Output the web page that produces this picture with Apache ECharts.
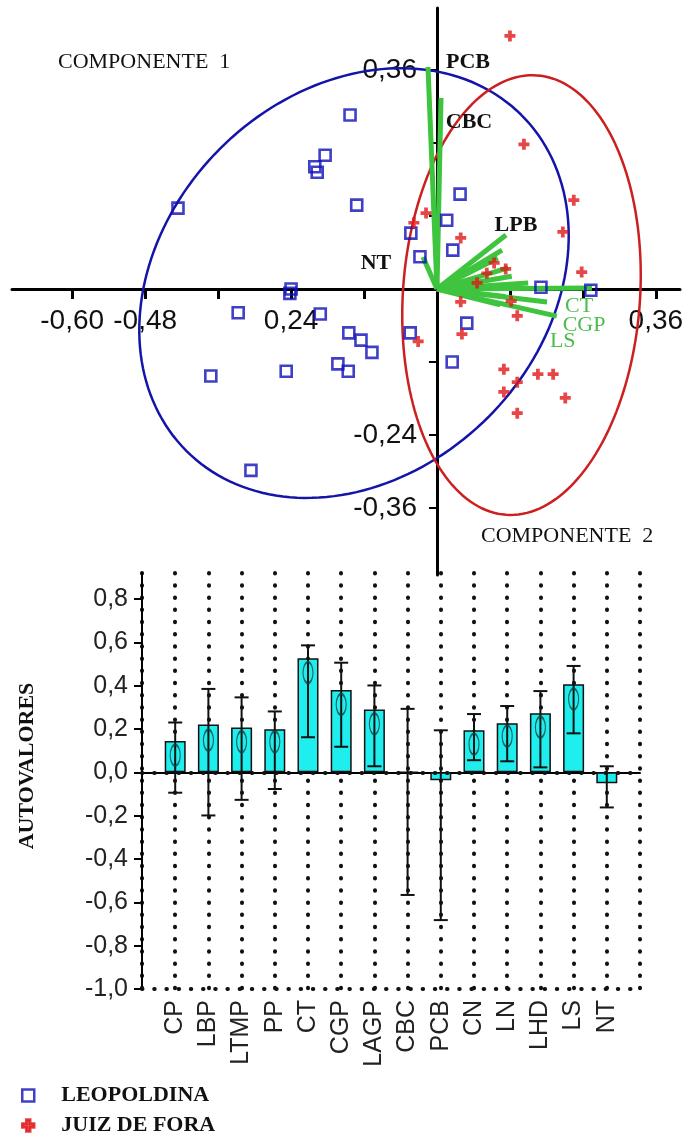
<!DOCTYPE html>
<html><head><meta charset="utf-8">
<script src="https://cdn.jsdelivr.net/npm/echarts@6/dist/echarts.min.js"></script>
<style>html,body{margin:0;padding:0;background:#fff}#c{width:690px;height:1137px}</style>
</head><body><div id="c"></div>
<script>
// ===== Biplot data =====
const leopoldina = [
  [-0.143,0.286],[-0.184,0.220],[-0.201,0.201],[-0.197,0.192],[-0.426,0.133],[-0.132,0.138],
  [0.038,0.156],[0.016,0.113],[-0.043,0.092],[0.026,0.064],[-0.028,0.053],[-0.240,0.000],
  [-0.242,-0.007],[-0.327,-0.039],[-0.192,-0.041],[-0.145,-0.072],[-0.125,-0.084],[-0.107,-0.104],
  [-0.163,-0.123],[-0.146,-0.135],[-0.248,-0.135],[-0.372,-0.143],[-0.306,-0.298],[-0.044,-0.072],
  [0.049,-0.056],[0.025,-0.120],[0.171,0.003],[0.253,-0.002]
];
const juizDeFora = [
  [0.120,0.416],[0.143,0.238],[0.225,0.146],[0.207,0.094],[0.238,0.028],[-0.018,0.125],
  [-0.038,0.109],[0.039,0.084],[0.094,0.043],[0.113,0.033],[0.082,0.026],[0.066,0.010],
  [0.039,-0.021],[0.122,-0.020],[0.132,-0.044],[0.041,-0.074],[-0.031,-0.086],[0.110,-0.132],
  [0.132,-0.153],[0.166,-0.140],[0.191,-0.140],[0.110,-0.169],[0.211,-0.179],[0.132,-0.204]
];
const loadingNames = ['CP','LPB','LTMP','PP','CT','CGP','LAGP','CBC','PCB','CN','LN','LHD','LS','NT'];
const loadingX = [0.117,0.1135,0.107,0.100,0.255,0.181,0.123,0.0066,-0.0148,0.112,0.104,0.150,0.197,-0.023];
const loadingY = [0.035,0.0888,0.064,0.051,0.0016,-0.0214,0.021,0.314,0.365,-0.012,-0.026,0.010,-0.0444,0.0526];
// ellipse: centre x, centre y, semi-axis 1, semi-axis 2, angle of axis 1 (deg)
const ellipseLeopoldina = [-0.1365, 0.0099, 0.390, 0.312, 45];
const ellipseJuizDeFora = [0.139, -0.0099, 0.362, 0.195, 86];
const biplotXTicks = [-0.60,-0.48,-0.36,-0.24,-0.12,0.12,0.24,0.36];
const biplotXLabelValues = [-0.60,-0.48,-0.24,0.36];
const biplotXLabels = ['-0,60','-0,48','0,24','0,36'];
const biplotYTicks = [-0.36,-0.24,-0.12,0.12,0.24,0.36];
const biplotYLabelValues = [0.36,-0.24,-0.36];
const biplotYLabels = ['0,36','-0,24','-0,36'];

// ===== Bar chart data =====
const categories = ['CP','LBP','LTMP','PP','CT','CGP','LAGP','CBC','PCB','CN','LN','LHD','LS','NT'];
const barValues = [0.145,0.221,0.207,0.199,0.526,0.380,0.290,0.000,-0.037,0.194,0.227,0.273,0.407,-0.050];
const errLow  = [-0.094,-0.199,-0.127,-0.077,0.162,0.118,0.028,-0.566,-0.682,0.056,0.051,0.023,0.180,-0.162];
const errHigh = [0.230,0.385,0.346,0.281,0.586,0.506,0.401,0.293,0.194,0.269,0.306,0.375,0.491,0.028];
const centerMarks = [0.079,0.148,0.141,0.141,0.460,0.313,0.224,null,null,0.130,0.167,0.208,0.338,null];
const barYTicks = [-1.0,-0.8,-0.6,-0.4,-0.2,0.0,0.2,0.4,0.6,0.8];
const barYLabels = ['-1,0','-0,8','-0,6','-0,4','-0,2','0,0','0,2','0,4','0,6','0,8'];

// ===== styling / layout =====
const SANS = 'Liberation Sans';
const SERIF = 'Liberation Serif';
const BLUE = '#1010b8';
const RED = '#e01818';
const GREEN = '#3ec43e';
const vectorLabelStyle = {
  PCB:{dx:40,dy:-5,color:'#111',weight:'bold'},
  CBC:{dx:28,dy:24,color:'#111',weight:'bold'},
  LPB:{dx:10,dy:-10,color:'#111',weight:'bold'},
  NT:{dx:-47,dy:6,color:'#111',weight:'bold'},
  CT:{dx:-13,dy:18,color:'#4cbc4c',weight:'normal'},
  CGP:{dx:37,dy:23,color:'#4cbc4c',weight:'normal'},
  LS:{dx:6,dy:25,color:'#4cbc4c',weight:'normal'}
};
function pick(vals, labels, v){
  for (let i=0;i<vals.length;i++) if (Math.abs(vals[i]-v)<1e-6) return labels[i];
  return '';
}
const dotStyle = {color:'#111', width:4, type:[0.5,11.7], cap:'round'};
const paddedCats = [''].concat(categories, ['']);

// biplot grid geometry (pixels)
const G0 = {left:12, top:8, width:668, height:567};
const X0 = {min:-0.699, max:0.3997};
const Y0 = {min:-0.470, max:0.462};
const xZeroOffset = -(G0.height * (0 - Y0.min) / (Y0.max - Y0.min));   // move x axis up to y=0
const yZeroOffset = -(G0.width * (0 - X0.min) / (X0.max - X0.min));    // move y axis right to x=0

const chart = echarts.init(document.getElementById('c'), null, {renderer:'canvas'});
chart.setOption({
  animation:false,
  backgroundColor:'#fff',
  grid:[
    {left:G0.left, top:G0.top, width:G0.width, height:G0.height, outerBoundsMode:'none', containLabel:false},
    {left:142, right:50, top:573, bottom:148, outerBoundsMode:'none', containLabel:false}
  ],
  xAxis:[
    {type:'value', gridIndex:0, min:X0.min, max:X0.max, position:'bottom', offset:xZeroOffset,
     axisLine:{onZero:false, lineStyle:{color:'#000', width:3}},
     axisTick:{show:true, customValues:biplotXTicks, length:10, lineStyle:{color:'#000', width:3}},
     axisLabel:{customValues:biplotXLabelValues, formatter:v=>pick(biplotXLabelValues,biplotXLabels,v),
       fontFamily:SANS, fontSize:28, color:'#111', margin:18, hideOverlap:false},
     splitLine:{show:false}},
    {type:'category', gridIndex:1, data:paddedCats, boundaryGap:false,
     axisLine:{lineStyle:{color:'#000', width:2}},
     axisTick:{show:false},
     axisLabel:{interval:0, rotate:90, fontFamily:SANS, fontSize:25, color:'#222', margin:11},
     splitLine:{show:true, interval:0, lineStyle:dotStyle}}
  ],
  yAxis:[
    {type:'value', gridIndex:0, min:Y0.min, max:Y0.max, position:'left', offset:yZeroOffset,
     axisLine:{onZero:false, lineStyle:{color:'#000', width:3}},
     axisTick:{show:true, customValues:biplotYTicks, length:8, lineStyle:{color:'#000', width:2}},
     axisLabel:{customValues:biplotYLabelValues, formatter:v=>pick(biplotYLabelValues,biplotYLabels,v),
       fontFamily:SANS, fontSize:28, color:'#111', margin:20, hideOverlap:false},
     splitLine:{show:false}},
    {type:'value', gridIndex:1, min:-1.0, max:0.92,
     name:'AUTOVALORES', nameLocation:'middle', nameGap:104, nameRotate:90,
     nameTextStyle:{fontFamily:SERIF, fontWeight:'bold', fontSize:22, color:'#111', padding:[0,0,0,30]},
     axisLine:{show:true, lineStyle:{color:'#000', width:2}},
     axisTick:{show:true, customValues:barYTicks, length:8, lineStyle:{color:'#000', width:2}},
     axisLabel:{customValues:barYTicks, formatter:v=>pick(barYTicks,barYLabels,v),
       fontFamily:SANS, fontSize:25, color:'#222', margin:14},
     splitLine:{show:false}}
  ],
  legend:{orient:'vertical', left:21, top:1084, itemGap:7, itemWidth:12, itemHeight:12, padding:0,
    height:56,
    data:['LEOPOLDINA','JUIZ DE FORA'],
    itemStyle:{borderWidth:2.5},
    textStyle:{fontFamily:SERIF, fontWeight:'bold', fontSize:22, lineHeight:23, color:'#111', padding:[0,0,0,22]}},
  graphic:[
    {type:'text', x:58, y:62, style:{text:'COMPONENTE  1', fontFamily:SERIF, fontSize:22, fill:'#111', verticalAlign:'middle'}},
    {type:'text', x:481, y:536, style:{text:'COMPONENTE  2', fontFamily:SERIF, fontSize:22, fill:'#111', verticalAlign:'middle'}}
  ],
  series:[
    {type:'custom', name:'ellipses', xAxisIndex:0, yAxisIndex:0, z:2, silent:true,
     data:[ellipseLeopoldina.concat([0]), ellipseJuizDeFora.concat([1])],
     renderItem:(params, api)=>{
       const cx=api.value(0), cy=api.value(1), a=api.value(2), b=api.value(3), th=api.value(4)*Math.PI/180;
       const pts=[];
       for(let k=0;k<=180;k++){
         const t=k/180*2*Math.PI, u=a*Math.cos(t), v=b*Math.sin(t);
         pts.push(api.coord([cx+u*Math.cos(th)-v*Math.sin(th), cy+u*Math.sin(th)+v*Math.cos(th)]));
       }
       return {type:'polyline', shape:{points:pts}, style:{stroke: api.value(5)===0 ? '#1414a8' : '#cc2020', lineWidth:2.5, fill:null}};
     }},
    {type:'custom', name:'vectors', xAxisIndex:0, yAxisIndex:0, z:3, silent:true,
     data: loadingNames.map((n,i)=>[loadingX[i], loadingY[i]]),
     renderItem:(params, api)=>{
       const o=api.coord([0,0]), p=api.coord([api.value(0), api.value(1)]);
       const name=loadingNames[params.dataIndex];
       const ch=[{type:'line', shape:{x1:o[0],y1:o[1],x2:p[0],y2:p[1]}, style:{stroke:GREEN, lineWidth:5}}];
       const s=vectorLabelStyle[name];
       if(s) ch.push({type:'text', style:{text:name, x:p[0]+s.dx, y:p[1]+s.dy, fill:s.color,
          fontFamily:SERIF, fontWeight:s.weight, fontSize:22, align:'center', verticalAlign:'middle'}});
       return {type:'group', children:ch};
     }},
    {type:'scatter', name:'LEOPOLDINA', xAxisIndex:0, yAxisIndex:0, z:4, data:leopoldina,
     symbol:'rect', symbolSize:11,
     itemStyle:{color:'rgba(255,255,255,0)', borderColor:BLUE, borderWidth:2.6}},
    {type:'scatter', name:'JUIZ DE FORA', xAxisIndex:0, yAxisIndex:0, z:4, data:juizDeFora,
     symbol:'path://M3.3,0 H6.7 V3.3 H10 V6.7 H6.7 V10 H3.3 V6.7 H0 V3.3 H3.3 Z', symbolSize:11,
     itemStyle:{color:RED, borderColor:RED, borderWidth:0}},
    {type:'bar', name:'bars', xAxisIndex:1, yAxisIndex:1, barWidth:21, z:2,
     data: paddedCats.map((c,i)=> (i>0 && i<=categories.length) ? barValues[i-1] : '-'),
     itemStyle:{color:'#1eeeee', borderColor:'#111', borderWidth:1.5},
     markLine:{silent:true, symbol:'none', label:{show:false}, lineStyle:dotStyle,
       data:[{yAxis:0},{yAxis:-1}]}},
    {type:'custom', name:'errors', xAxisIndex:1, yAxisIndex:1, z:5, silent:true,
     encode:{x:0, y:[1,2]},
     data: categories.map((c,i)=>[i+1, errLow[i], errHigh[i]]),
     renderItem:(params, api)=>{
       const lo=api.coord([api.value(0), api.value(1)]), hi=api.coord([api.value(0), api.value(2)]);
       const hw=7, st={stroke:'#111', lineWidth:2};
       return {type:'group', children:[
         {type:'line', shape:{x1:lo[0],y1:lo[1],x2:hi[0],y2:hi[1]}, style:st},
         {type:'line', shape:{x1:hi[0]-hw,y1:hi[1],x2:hi[0]+hw,y2:hi[1]}, style:st},
         {type:'line', shape:{x1:lo[0]-hw,y1:lo[1],x2:lo[0]+hw,y2:lo[1]}, style:st}
       ]};
     }},
    {type:'scatter', name:'marks', xAxisIndex:1, yAxisIndex:1, z:6, silent:true,
     data: categories.map((c,i)=>[i+1, centerMarks[i]]).filter(d=>d[1]!==null),
     symbol:'circle', symbolSize:[10,21],
     itemStyle:{color:'rgba(0,0,0,0)', borderColor:'#1d3d3d', borderWidth:1.6}}
  ]
});
</script></body></html>
